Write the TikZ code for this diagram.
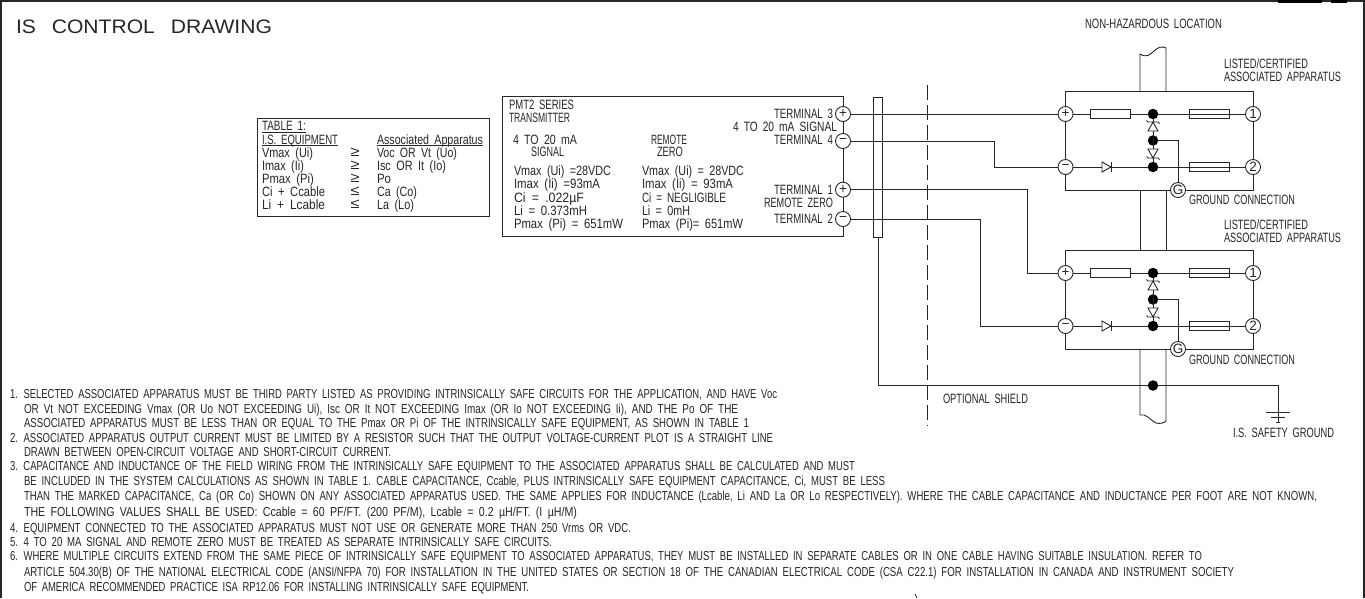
\documentclass[tikz,border=0pt]{standalone}
\usepackage{fontspec}
\usepackage{graphicx}
\setmainfont{Liberation Sans}
\definecolor{ink}{HTML}{262626}
\newsavebox\fitbox
\newcommand\fit[2]{\sbox\fitbox{#2}\dimen0=\wd\fitbox\pgfmathsetmacro\fitr{#1/\the\dimen0}\scalebox{\fitr}[1]{\usebox\fitbox}}
\tikzset{
 wire/.style={draw=ink,line width=0.9pt},
 lab/.style={anchor=base west,inner sep=0pt,outer sep=0pt,yshift=-4.8pt,text=ink,font={\fontsize{13.5}{15}\selectfont\spaceskip .5em\relax}},
 note/.style={lab,font={\fontsize{13}{15}\selectfont\spaceskip .5em\relax}},
 symb/.style={anchor=center,inner sep=0pt,text=ink,font=\fontsize{14}{14}\selectfont},
 term/.style={circle,draw=ink,line width=0.9pt,fill=white,minimum size=15pt,inner sep=0pt,text=ink,font=\fontsize{13.5}{14}\selectfont},
 res/.style={rectangle,draw=ink,line width=0.9pt,minimum height=9pt,inner sep=0pt},
 dot/.style={circle,fill=black,minimum size=10.5pt,inner sep=0pt},
}
\begin{document}
\begin{tikzpicture}[x=1pt,y=-1pt]
\useasboundingbox (0,0) rectangle (1365,598);
\fill[white] (0,0) rectangle (1365,598);
% sheet frame
\draw[ink,line width=2pt] (1,598) -- (1,1) -- (1363.5,1) -- (1363.5,598);
\fill[black] (1278,0) rectangle (1322,2.5);
\fill[black] (1331,0) rectangle (1347,2.5);
\draw[ink,line width=0.8pt] (915,594) -- (917,598);
% title
\node[lab,yshift=-2pt,font={\fontsize{19.5}{20}\selectfont\spaceskip .75em\relax}] (title) at (16,27) {\fit{256}{IS CONTROL DRAWING}};
% table
\node[rectangle,draw=ink,line width=1pt,minimum width=232pt,minimum height=98pt,anchor=north west,inner sep=0pt] (tablebox) at (257,118) {};
\node[lab] (t1) at (262,126) {\fit{44}{TABLE 1:}};
\node[lab] (t2) at (262,139.5) {\fit{76}{I.S. EQUIPMENT}};
\node[lab] (t3) at (377,139.5) {\fit{106}{Associated Apparatus}};
\draw[ink,line width=0.9pt] (262,132) -- (306,132) (262,145.5) -- (338,145.5) (377,145.5) -- (483,145.5);
\node[lab] (t4) at (262,152.5) {\fit{51}{Vmax (Ui)}};
\node[lab] (t5) at (262,165.5) {\fit{42}{Imax (Ii)}};
\node[lab] (t6) at (262,178.5) {\fit{52}{Pmax (Pi)}};
\node[lab] (t7) at (262,191.5) {\fit{63}{Ci + Ccable}};
\node[lab] (t8) at (262,204.5) {\fit{63}{Li + Lcable}};
\node[lab] (t9) at (377,152.5) {\fit{80}{Voc OR Vt (Uo)}};
\node[lab] (t10) at (377,165.5) {\fit{69}{Isc OR It (Io)}};
\node[lab] (t11) at (377,178.5) {\fit{14}{Po}};
\node[lab] (t12) at (377,191.5) {\fit{40}{Ca (Co)}};
\node[lab] (t13) at (377,204.5) {\fit{37}{La (Lo)}};
\node[symb] (s1) at (355,152.5) {\fit{9}{≥}};
\node[symb] (s2) at (355,165.5) {\fit{9}{≥}};
\node[symb] (s3) at (355,178.5) {\fit{9}{≥}};
\node[symb] (s4) at (355,191.5) {\fit{9}{≤}};
\node[symb] (s5) at (355,204.5) {\fit{9}{≤}};
% transmitter
\draw[ink,line width=1pt] (843,96.5) -- (502.5,96.5) -- (502.5,236.5) -- (843,236.5) -- cycle;
\node[lab] (x1) at (509,105) {\fit{65}{PMT2 SERIES}};
\node[lab] (x2) at (509,118) {\fit{61}{TRANSMITTER}};
\node[lab] (x3) at (513,140) {\fit{64}{4 TO 20 mA}};
\node[lab] (x4) at (531,152) {\fit{33}{SIGNAL}};
\node[lab] (x5) at (651,140) {\fit{36}{REMOTE}};
\node[lab] (x6) at (657,152) {\fit{26}{ZERO}};
\node[lab] (x7) at (514,171) {\fit{97}{Vmax (Ui) =28VDC}};
\node[lab] (x8) at (514,184) {\fit{86}{Imax (Ii) =93mA}};
\node[lab] (x9) at (514,198) {\fit{70}{Ci = .022µF}};
\node[lab] (x10) at (514,211) {\fit{73}{Li = 0.373mH}};
\node[lab] (x11) at (514,224) {\fit{109}{Pmax (Pi) = 651mW}};
\node[lab] (x12) at (642,171) {\fit{102}{Vmax (Ui) = 28VDC}};
\node[lab] (x13) at (642,184) {\fit{91}{Imax (Ii) = 93mA}};
\node[lab] (x14) at (642,198) {\fit{84}{Ci = NEGLIGIBLE}};
\node[lab] (x15) at (642,211) {\fit{48}{Li = 0mH}};
\node[lab] (x16) at (642,224) {\fit{101}{Pmax (Pi)= 651mW}};
\node[lab] (x17) at (774,114) {\fit{59}{TERMINAL 3}};
\node[lab] (x18) at (733,127) {\fit{104}{4 TO 20 mA SIGNAL}};
\node[lab] (x19) at (774,140) {\fit{59}{TERMINAL 4}};
\node[lab] (x20) at (774,190) {\fit{59}{TERMINAL 1}};
\node[lab] (x21) at (764,203) {\fit{69}{REMOTE ZERO}};
\node[lab] (x22) at (774,219) {\fit{59}{TERMINAL 2}};
% shield sleeve, hazardous boundary
\draw[ink,line width=1pt] (873.5,97) rectangle (882.5,237);
\coordinate (shieldtop) at (878,237);
\draw[ink,line width=1pt,dash pattern=on 15pt off 5pt] (927.6,85) -- (927.6,426);
% conduit
\draw[wire] (1140,91) -- (1140,54) .. controls (1146,58) and (1150,55) .. (1154,51) .. controls (1158,47) and (1162,46) .. (1166,48) -- (1166,91);
\draw[wire] (1140,190) -- (1140,250) (1166,190) -- (1166,250);
\draw[wire] (1140,349) -- (1140,415) .. controls (1146,413) and (1150,420) .. (1156,423) .. controls (1160,424) and (1164,423) .. (1166,421) -- (1166,349);
% associated apparatus
\foreach \n/\y in {a/91,b/250}{
 \draw[wire] (1065.5,\y) rectangle (1253,\y+99);
 \node[term] (p\n) at (1065.5,\y+23) {+};
 \node[term] (m\n) at (1065.5,\y+76) {−};
 \node[term] (one\n) at (1253,\y+23) {1};
 \node[term] (two\n) at (1253,\y+76) {2};
 \node[term] (g\n) at (1178,\y+99) {G};
 \node[dot] (da\n) at (1153,\y+23) {};
 \node[dot] (db\n) at (1153,\y+49.5) {};
 \node[dot] (dc\n) at (1153,\y+76) {};
 \node[res,minimum width=40pt] (ra\n) at (1110,\y+23) {};
 \node[res,minimum width=40pt] (fa\n) at (1209,\y+23) {};
 \node[res,minimum width=40pt] (fb\n) at (1209,\y+76) {};
 \draw[wire] (p\n) -- (ra\n) -- (da\n) -- (one\n);
 \draw[wire] (m\n) -- (dc\n) -- (two\n);
 \draw[wire] (da\n) -- (dc\n);
 \draw[wire] (db\n) -| (g\n);
 % diodes
 \draw[wire,fill=white] (1102,\y+71) -- (1111,\y+76) -- (1102,\y+81) -- cycle;
 \draw[wire] (1111,\y+71) -- (1111,\y+81);
 \draw[wire,fill=white] (1148,\y+40) -- (1153,\y+31) -- (1158,\y+40) -- cycle;
 \draw[wire] (1146.5,\y+29.5) -- (1148,\y+31) -- (1158,\y+31) -- (1159.5,\y+32.5);
 \draw[wire,fill=white] (1148,\y+58) -- (1153,\y+67) -- (1158,\y+58) -- cycle;
 \draw[wire] (1146.5,\y+65.5) -- (1148,\y+67) -- (1158,\y+67) -- (1159.5,\y+68.5);
}
% transmitter terminals
\node[term] (tp3) at (843,114) {+};
\node[term] (tm4) at (843,141) {−};
\node[term] (tp1) at (843,189.7) {+};
\node[term] (tm2) at (843,219) {−};
\coordinate (bend4) at (994.5,167);
\coordinate (bend1) at (1027,273);
\coordinate (bend2) at (980,326);
\draw[wire] (tp3) -- (pa);
\draw[wire] (tm4) -| (bend4) -- (ma);
\draw[wire] (tp1) -| (bend1) -- (pb);
\draw[wire] (tm2) -| (bend2) -- (mb);
% shield and safety ground
\node[dot] (shielddot) at (1153,385.5) {};
\coordinate (gnd) at (1278,412);
\draw[wire] (shieldtop) |- (shielddot) -| (gnd);
\draw[wire] (1266,412) -- (1290,412) (1271,417) -- (1285,417) (1276,422) -- (1280,422);
\draw[wire] (gnd) -- (1278,422);
% location labels
\node[lab] (l1) at (1085,24) {\fit{137}{NON-HAZARDOUS LOCATION}};
\node[lab] (l2) at (1224,64) {\fit{84}{LISTED/CERTIFIED}};
\node[lab] (l3) at (1224,77) {\fit{117}{ASSOCIATED APPARATUS}};
\node[lab] (l4) at (1189,200) {\fit{106}{GROUND CONNECTION}};
\node[lab] (l5) at (1224,225) {\fit{84}{LISTED/CERTIFIED}};
\node[lab] (l6) at (1224,238) {\fit{117}{ASSOCIATED APPARATUS}};
\node[lab] (l7) at (1189,360) {\fit{106}{GROUND CONNECTION}};
\node[lab] (l8) at (943,399) {\fit{85}{OPTIONAL SHIELD}};
\node[lab] (l9) at (1233,433) {\fit{101}{I.S. SAFETY GROUND}};
% notes
\node[note] (n1) at (10,394) {\fit{767}{1. SELECTED ASSOCIATED APPARATUS MUST BE THIRD PARTY LISTED AS PROVIDING INTRINSICALLY SAFE CIRCUITS FOR THE APPLICATION, AND HAVE Voc}};
\node[note] (n2) at (24,409) {\fit{714}{OR Vt NOT EXCEEDING Vmax (OR Uo NOT EXCEEDING Ui), Isc OR It NOT EXCEEDING Imax (OR Io NOT EXCEEDING Ii), AND THE Po OF THE}};
\node[note] (n3) at (24,423) {\fit{725}{ASSOCIATED APPARATUS MUST BE LESS THAN OR EQUAL TO THE Pmax OR Pi OF THE INTRINSICALLY SAFE EQUIPMENT, AS SHOWN IN TABLE 1}};
\node[note] (n4) at (10,438) {\fit{763}{2. ASSOCIATED APPARATUS OUTPUT CURRENT MUST BE LIMITED BY A RESISTOR SUCH THAT THE OUTPUT VOLTAGE-CURRENT PLOT IS A STRAIGHT LINE}};
\node[note] (n5) at (24,452) {\fit{367}{DRAWN BETWEEN OPEN-CIRCUIT VOLTAGE AND SHORT-CIRCUIT CURRENT.}};
\node[note] (n6) at (10,466) {\fit{845}{3. CAPACITANCE AND INDUCTANCE OF THE FIELD WIRING FROM THE INTRINSICALLY SAFE EQUIPMENT TO THE ASSOCIATED APPARATUS SHALL BE CALCULATED AND MUST}};
\node[note] (n7) at (24,481) {\fit{861}{BE INCLUDED IN THE SYSTEM CALCULATIONS AS SHOWN IN TABLE 1. CABLE CAPACITANCE, Ccable, PLUS INTRINSICALLY SAFE EQUIPMENT CAPACITANCE, Ci, MUST BE LESS}};
\node[note] (n8) at (24,496) {\fit{1293}{THAN THE MARKED CAPACITANCE, Ca (OR Co) SHOWN ON ANY ASSOCIATED APPARATUS USED. THE SAME APPLIES FOR INDUCTANCE (Lcable, Li AND La OR Lo RESPECTIVELY). WHERE THE CABLE CAPACITANCE AND INDUCTANCE PER FOOT ARE NOT KNOWN,}};
\node[note] (n9) at (24,512) {\fit{553}{THE FOLLOWING VALUES SHALL BE USED: Ccable = 60 PF/FT. (200 PF/M), Lcable = 0.2 µH/FT. (I µH/M)}};
\node[note] (n10) at (10,528) {\fit{621}{4. EQUIPMENT CONNECTED TO THE ASSOCIATED APPARATUS MUST NOT USE OR GENERATE MORE THAN 250 Vrms OR VDC.}};
\node[note] (n11) at (10,542) {\fit{542}{5. 4 TO 20 MA SIGNAL AND REMOTE ZERO MUST BE TREATED AS SEPARATE INTRINSICALLY SAFE CIRCUITS.}};
\node[note] (n12) at (10,556) {\fit{1192}{6. WHERE MULTIPLE CIRCUITS EXTEND FROM THE SAME PIECE OF INTRINSICALLY SAFE EQUIPMENT TO ASSOCIATED APPARATUS, THEY MUST BE INSTALLED IN SEPARATE CABLES OR IN ONE CABLE HAVING SUITABLE INSULATION. REFER TO}};
\node[note] (n13) at (24,572) {\fit{1210}{ARTICLE 504.30(B) OF THE NATIONAL ELECTRICAL CODE (ANSI/NFPA 70) FOR INSTALLATION IN THE UNITED STATES OR SECTION 18 OF THE CANADIAN ELECTRICAL CODE (CSA C22.1) FOR INSTALLATION IN CANADA AND INSTRUMENT SOCIETY}};
\node[note] (n14) at (24,587) {\fit{505}{OF AMERICA RECOMMENDED PRACTICE ISA RP12.06 FOR INSTALLING INTRINSICALLY SAFE EQUIPMENT.}};
\end{tikzpicture}
\end{document}
